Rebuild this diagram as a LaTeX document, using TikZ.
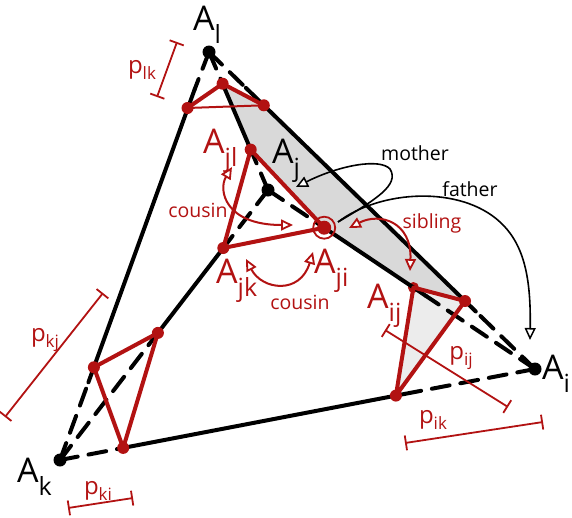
\documentclass[tikz,border=0pt]{standalone}
\usepackage{fontspec}
\setmainfont{Open Sans}
\usetikzlibrary{calc,arrows.meta}
\definecolor{dred}{RGB}{178,18,18}
\definecolor{bandgray}{RGB}{217,217,217}
\definecolor{trigray}{RGB}{236,236,236}
\newcommand{\bigA}[1]{{\fontsize{34}{36}\selectfont A}\raisebox{-13pt}{\fontsize{25}{27}\selectfont #1}}
\newcommand{\plab}[1]{{\fontsize{24}{26}\selectfont p}\raisebox{-6pt}{\fontsize{17}{19}\selectfont #1}}
\begin{document}
\begin{tikzpicture}[x=1pt,y=-1pt,
  edge/.style={line width=4pt,black,line cap=round},
  edged/.style={edge,dash pattern=on 18pt off 11pt},
  redthick/.style={line width=4pt,dred,line cap=round,line join=round},
  redthin/.style={line width=2pt,dred},
  meas/.style={line width=1.8pt,dred,{Bar[width=15pt,line width=1.8pt]}-{Bar[width=15pt,line width=1.8pt]}},
  curveb/.style={line width=1.6pt,black,-{Triangle[open,fill=white,length=12pt,width=11pt,line width=1.5pt]}},
  curver/.style={line width=2pt,dred,{Triangle[open,fill=white,length=12pt,width=11pt,line width=1.8pt]}-{Triangle[open,fill=white,length=12pt,width=11pt,line width=1.8pt]}},
  lbl/.style={inner sep=0pt,anchor=base west},
  txt/.style={inner sep=0pt,font=\fontsize{19.5}{21}\selectfont}]
\useasboundingbox (0,0) rectangle (572,517);
% black vertices
\coordinate (Al) at (209,52);
\coordinate (Ak) at (60,460);
\coordinate (Ai) at (535,369);
\coordinate (Aj) at (268,190);
% red points
\coordinate (Alk) at (187.5,108);
\coordinate (Alj) at (222.6,83.7);
\coordinate (Ali) at (263.8,105.3);
\coordinate (Akl) at (93.9,367.3);
\coordinate (Akj) at (157.9,332.9);
\coordinate (Aki) at (123.2,447.9);
\coordinate (Aij) at (413.4,287.5);
\coordinate (Ail) at (465,301);
\coordinate (Aik) at (395.9,395.6);
\coordinate (Ajl) at (250.7,149.6);
\coordinate (Ajk) at (223.3,248);
\coordinate (Aji) at (324.2,227.7);
% gray areas
\fill[bandgray] (Alj) -- (Ali) -- (Ail) -- (Aij) -- (Aji) -- (Ajl) -- cycle;
\fill[trigray] (Aij) -- (Ail) -- (Aik) -- cycle;
\fill[dred] (Aij) circle (5.5pt);
% black edges: solid middle, dashed ends
\coordinate (e1a) at ($(Alk)!20pt!(Al)$);
\coordinate (e1b) at ($(Akl)!16pt!(Ak)$);
\coordinate (e2a) at ($(Ali)!25pt!(Al)$);
\coordinate (e2b) at ($(Ail)!15pt!(Ai)$);
\coordinate (e3a) at ($(Aki)!6pt!(Ak)$);
\coordinate (e3b) at ($(Aik)!14pt!(Ai)$);
\coordinate (e4a) at ($(Ajl)!1pt!(Aj)$);
\coordinate (e4b) at ($(Alj)!4pt!(Al)$);
\coordinate (e5a) at ($(Ajk)!4pt!(Aj)$);
\coordinate (e5b) at ($(Akj)!14pt!(Ak)$);
\coordinate (e6a) at ($(Aji)!8pt!(Aj)$);
\coordinate (e6b) at ($(Aij)!15pt!(Ai)$);
\draw[edge] (e1a) -- (e1b);
\draw[edge] (e2a) -- (e2b);
\draw[edge] (e3a) -- (e3b);
\draw[edge] (e4a) -- (e4b);
\draw[edge] (e5a) -- (e5b);
\draw[edge] (e6a) -- (e6b);
\draw[edged] (Al) -- (e1a);
\draw[edged] (Ak) -- (e1b);
\draw[edged] (Al) -- (e2a);
\draw[edged] (Ai) -- (e2b);
\draw[edged] (Ak) -- (e3a);
\draw[edged] (Ai) -- (e3b);
\draw[edged] (Aj) -- (e4a);
\draw[edged] (Al) -- (e4b);
\draw[edged] (Aj) -- (e5a);
\draw[edged] (Ak) -- (e5b);
\draw[edged] (Aj) -- (e6a);
\draw[edged] (Ai) -- (e6b);
\foreach \v in {Al,Ak,Ai,Aj} \fill[black] (\v) circle (6.5pt);
% red triangles
\draw[redthin] (Alk) -- (Ali);
\draw[redthick] (Alk) -- (Alj) -- (Ali);
\draw[redthick] (Akl) -- (Akj) -- (Aki) -- cycle;
\draw[redthick] (Aij) -- (Ail) -- (Aik) -- cycle;
\draw[redthick] (Ajl) -- (Ajk) -- (Aji) -- cycle;
\foreach \v in {Alk,Alj,Ali,Akl,Akj,Aki,Ail,Aik,Ajl,Ajk} \fill[dred] (\v) circle (6pt);
\fill[dred] (Aji) circle (7pt);
\draw[dred,line width=1.8pt] (Aji) circle (11pt);
% measurement bars
\coordinate (mlk1) at (157,97);  \coordinate (mlk2) at (177,42);
\coordinate (mkj1) at (5,417);   \coordinate (mkj2) at (103,293);
\coordinate (mki1) at (68,508);  \coordinate (mki2) at (133,498);
\coordinate (mij1) at (385,330); \coordinate (mij2) at (508,407);
\coordinate (mik1) at (405,443); \coordinate (mik2) at (543,422);
\draw[meas] (mlk1) -- (mlk2);
\draw[meas] (mkj1) -- (mkj2);
\draw[meas] (mki1) -- (mki2);
\draw[meas] (mij1) -- (mij2);
\draw[meas] (mik1) -- (mik2);
% relation curves
\coordinate (m0) at (338,222);
\coordinate (mtip) at (296,187);
\coordinate (ftip) at (530,340);
\draw[curveb] (m0) .. controls (375,200) and (400,185) .. (390,169) .. controls (380,158) and (340,165) .. (mtip);
\draw[curveb] (m0) .. controls (380,190) and (460,185) .. (500,222) .. controls (525,245) and (531,280) .. (ftip);
\coordinate (sb0) at (349,228); \coordinate (sb1) at (410,271);
\draw[curver] (sb0) .. controls (380,212) and (412,222) .. (sb1);
\coordinate (cu0) at (232,167); \coordinate (cu1) at (293,225);
\draw[curver] (cu0) .. controls (218,190) and (225,225) .. (cu1);
\coordinate (cl0) at (246,259); \coordinate (cl1) at (313,252);
\draw[curver] (cl0) .. controls (262,290) and (300,295) .. (cl1);
% labels
\node[lbl] (tAl) at (193,30) {\bigA{l}};
\node[lbl] (tAj) at (272,163) {\bigA{j}};
\node[lbl] (tAi) at (542,379) {\bigA{i}};
\node[lbl] (tAk) at (17,482) {\bigA{k}};
\node[lbl,text=dred] (tAjl) at (203,153) {\bigA{jl}};
\node[lbl,text=dred] (tAjk) at (216,283) {\bigA{jk}};
\node[lbl,text=dred] (tAji) at (314,273) {\bigA{ji}};
\node[lbl,text=dred] (tAij) at (367,308) {\bigA{ij}};
\node[inner sep=0pt,text=dred] (plk) at (142,70) {\plab{lk}};
\node[inner sep=0pt,text=dred] (pkj) at (45,340) {\plab{kj}};
\node[inner sep=0pt,text=dred] (pki) at (98,491) {\plab{ki}};
\node[inner sep=0pt,text=dred] (pij) at (461,358) {\plab{ij}};
\node[inner sep=0pt,text=dred] (pik) at (433,420) {\plab{ik}};
\node[txt] (tmother) at (415,153) {mother};
\node[txt] (tfather) at (470,189) {father};
\node[txt,text=dred] (tsib) at (432,223) {sibling};
\node[txt,text=dred] (tcou1) at (198,210) {cousin};
\node[txt,text=dred] (tcou2) at (300,302) {cousin};
\end{tikzpicture}
\end{document}
